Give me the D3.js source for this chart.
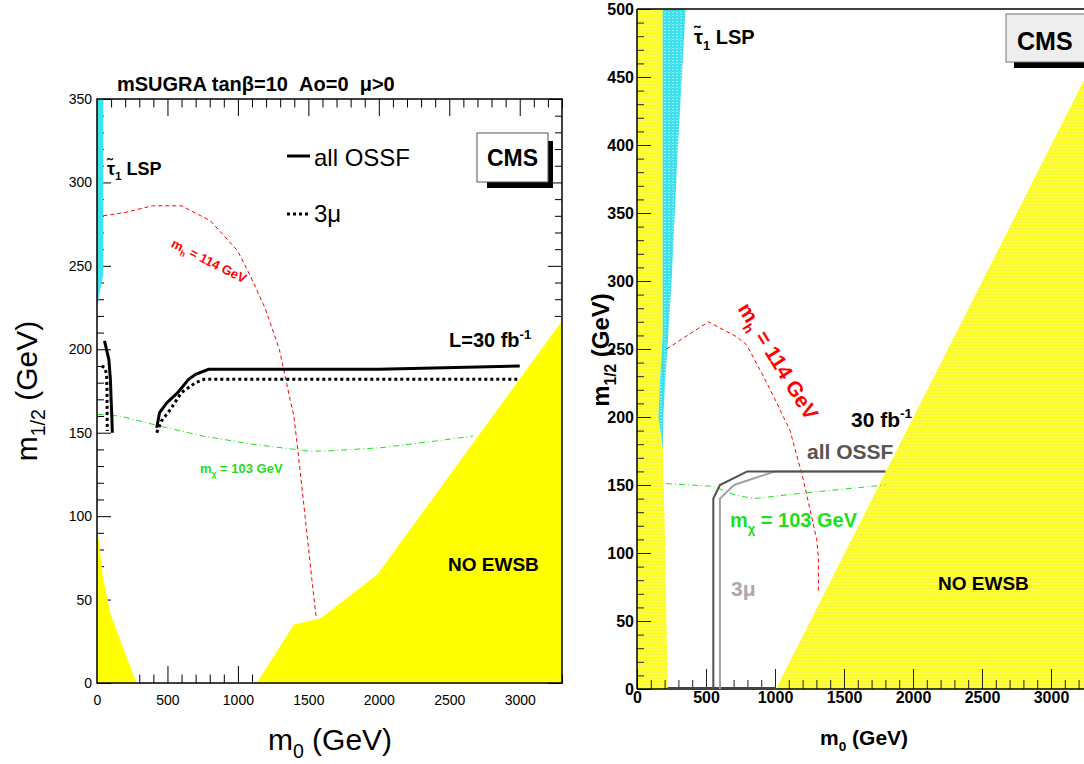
<!DOCTYPE html>
<html><head><meta charset="utf-8">
<script src="https://cdn.jsdelivr.net/npm/d3@7/dist/d3.min.js"></script>
<style>html,body{margin:0;padding:0;background:#fff;} svg{display:block;}</style>
</head><body>
<script>
// ---------------- DATA ----------------
const xMajorTicks = [0, 500, 1000, 1500, 2000, 2500, 3000];
const leftYMajorTicks = [0, 50, 100, 150, 200, 250, 300, 350];
const rightYMajorTicks = [0, 50, 100, 150, 200, 250, 300, 350, 400, 450, 500];

// Left panel (m0, m1/2)
const leftCyan = [[0,350],[45,350],[45,245],[0,226]];
const leftYellowLow = [[0,0],[0,94],[45,62],[97,41],[280,0]];
const leftNoEwsb = [[1134,0],[1397,35],[1590,39],[1989,65],[3300,217],[3300,0]];
const leftOssf = [[424,153],[444,162],[496,168],[573,174],[650,182],[700,185],[792,188],[2000,188],[3000,190]];
const leftOssfLow = [[53,205],[84,194],[95,182],[100,170],[105,160],[109,150]];
const left3mu = [[424,150],[457,157],[521,164],[599,174],[700,180],[760,182],[3000,182]];
const left3muLow = [[33,190],[55,189],[68,185],[71,175],[72,160],[73,151]];
const leftMh = [[45,280],[200,282],[393,286],[599,286],[805,277],[998,259],[1088,244],[1191,225],[1294,200],[1370,170],[1397,160],[1422,142],[1474,102],[1525,62],[1556,39]];
const leftMchi = [[6,161],[161,160],[444,154],[752,148],[1114,143],[1500,139],[1628,139],[2014,141],[2400,145],[2670,148]];

// Right panel
const rightYellowLeft = [[0,0],[222,0],[205,100],[188,177],[155,200],[167,227],[186,260],[186,500],[0,500]];
const rightCyan = [[186,500],[353,500],[297,400],[251,300],[205,227],[190,200],[188,177],[155,200],[167,227],[186,260]];
const rightNoEwsb = [[1007,0],[3300,460],[3300,0]];
const rightOssf = [[553,0],[553,140],[601,150],[799,160],[1800,160]];
const right3mu = [[601,0],[601,140],[703,150],[1000,160],[1800,160]];
const rightMh = [[215,250],[517,270],[722,259],[795,253],[915,230],[1000,213],[1109,190],[1205,154],[1302,110],[1314,97],[1314,70]];
const rightMchi = [[210,151],[553,149],[700,143],[843,140],[1200,144],[1500,147],[1800,150]];

// ---------------- SETUP ----------------
const FONT = "'Liberation Sans', Arial, Helvetica, sans-serif";
const W = 1084, H = 764;
const svg = d3.select("body").append("svg").attr("width", W).attr("height", H)
  .attr("font-family", FONT);

const defs = svg.append("defs");
const py = defs.append("pattern").attr("id","yel").attr("width",6).attr("height",3).attr("patternUnits","userSpaceOnUse");
py.append("rect").attr("width",6).attr("height",3).attr("fill","#ffff26");
py.append("rect").attr("width",6).attr("height",1).attr("fill","#f4f45a");
const pc = defs.append("pattern").attr("id","cya").attr("width",4).attr("height",3).attr("patternUnits","userSpaceOnUse");
pc.append("rect").attr("width",4).attr("height",3).attr("fill","#3fe0ee");
pc.append("rect").attr("width",2).attr("height",1).attr("fill","#8cf2fa");

function label(g, parts, o) {
  const t = g.append("text")
    .attr("font-size", o.size).attr("font-weight", o.weight || "normal")
    .attr("fill", o.fill || "#000").attr("text-anchor", o.anchor || "start")
    .style("white-space", "pre")
    .attr("transform", `translate(${o.x},${o.y}) rotate(${o.rot || 0})`);
  let shift = 0;
  parts.forEach(p => {
    const s = typeof p === "string" ? {t: p} : p;
    const target = s.sub ? 0.28 : s.sup ? -0.42 : 0;
    const dy = (target - shift) * o.size;
    shift = target;
    t.append("tspan").attr("dy", dy)
      .attr("font-size", (s.sub || s.sup) ? o.size * 0.65 : o.size).text(s.t);
  });
  return t;
}

function tickSet(g, axisFn, scale, values, size, tr, color) {
  const gg = g.append("g").attr("transform", tr)
    .call(axisFn(scale).tickValues(values).tickSize(size).tickFormat(""));
  gg.select(".domain").remove();
  gg.selectAll("line").attr("stroke", color || "#000").attr("stroke-width", 1);
  return gg;
}
function labelSet(g, axisFn, scale, values, pad, tr, fs, fw) {
  const gg = g.append("g").attr("transform", tr)
    .call(axisFn(scale).tickValues(values).tickSize(0).tickPadding(pad).tickFormat(d3.format("d")));
  gg.select(".domain").remove();
  gg.selectAll("text").attr("font-family", FONT).attr("font-size", fs).attr("font-weight", fw).attr("fill", "#000");
  return gg;
}

// ---------------- LEFT PANEL ----------------
const xL = d3.scaleLinear().domain([0, 3300]).range([97, 562]);
const yL = d3.scaleLinear().domain([0, 350]).range([683, 99]);
const lineL = d3.line().x(d => xL(d[0])).y(d => yL(d[1]));
const gL = svg.append("g");

const lxMinor = d3.range(0, 3301, 100).filter(v => v % 500 !== 0);
const lyMinor = d3.range(0, 351, 10).filter(v => v % 50 !== 0);
// ticks (drawn under the fills)
tickSet(gL, d3.axisBottom, xL, xMajorTicks, -17, `translate(0,683)`);
tickSet(gL, d3.axisBottom, xL, lxMinor, -8.5, `translate(0,683)`);
tickSet(gL, d3.axisTop, xL, xMajorTicks, -17, `translate(0,99)`);
tickSet(gL, d3.axisTop, xL, lxMinor, -8.5, `translate(0,99)`);
tickSet(gL, d3.axisLeft, yL, leftYMajorTicks, -14, `translate(97,0)`);
tickSet(gL, d3.axisLeft, yL, lyMinor, -7, `translate(97,0)`);
tickSet(gL, d3.axisRight, yL, leftYMajorTicks, -14, `translate(562,0)`);
tickSet(gL, d3.axisRight, yL, lyMinor, -7, `translate(562,0)`);
labelSet(gL, d3.axisBottom, xL, xMajorTicks, 12, `translate(0,683)`, 14, "normal");
labelSet(gL, d3.axisLeft, yL, leftYMajorTicks, 5, `translate(97,0)`, 14, "normal");

// fills
gL.append("path").attr("d", lineL(leftCyan) + "Z").attr("fill", "#3fe3ef");
gL.append("path").attr("d", lineL(leftYellowLow) + "Z").attr("fill", "#ffff00");
gL.append("path").attr("d", lineL(leftNoEwsb) + "Z").attr("fill", "#ffff00");
// frame
gL.append("rect").attr("x", 97).attr("y", 99).attr("width", 465).attr("height", 584)
  .attr("fill", "none").attr("stroke", "#000").attr("stroke-width", 1.5);

// curves
gL.append("path").attr("d", lineL(leftMh)).attr("fill", "none").attr("stroke", "#ff0000")
  .attr("stroke-width", 1).attr("stroke-dasharray", "4,3");
gL.append("path").attr("d", lineL(leftMchi)).attr("fill", "none").attr("stroke", "#22e022")
  .attr("stroke-width", 1).attr("stroke-dasharray", "6,3,1,3");
[leftOssf, leftOssfLow].forEach(c => gL.append("path").attr("d", lineL(c)).attr("fill", "none")
  .attr("stroke", "#000").attr("stroke-width", 3));
[left3mu, left3muLow].forEach(c => gL.append("path").attr("d", lineL(c)).attr("fill", "none")
  .attr("stroke", "#000").attr("stroke-width", 3).attr("stroke-dasharray", "3,3"));

// texts
label(gL, ["mSUGRA tan\u03b2=10  Ao=0  \u03bc>0"], {x: 117, y: 91, size: 20, weight: "bold"});
label(gL, ["m", {t: "1/2", sub: true}, " (GeV)"], {x: 37, y: 391, size: 30, rot: -90, anchor: "middle"});
label(gL, ["m", {t: "0", sub: true}, " (GeV)"], {x: 330, y: 750, size: 30, anchor: "middle"});
gL.append("line").attr("x1", 287).attr("x2", 310).attr("y1", 156).attr("y2", 156).attr("stroke", "#000").attr("stroke-width", 3);
label(gL, ["all OSSF"], {x: 314, y: 166, size: 24});
gL.append("line").attr("x1", 287).attr("x2", 310).attr("y1", 214).attr("y2", 214).attr("stroke", "#000").attr("stroke-width", 3).attr("stroke-dasharray", "3,3");
label(gL, ["3\u03bc"], {x: 314, y: 222, size: 24});
label(gL, ["\u03c4\u0303", {t: "1", sub: true}, " LSP"], {x: 107, y: 175, size: 18, weight: "bold"});
label(gL, ["L=30 fb", {t: "-1", sup: true}], {x: 449, y: 347, size: 20, weight: "bold"});
label(gL, ["NO EWSB"], {x: 448, y: 571, size: 19, weight: "bold"});
label(gL, ["m", {t: "h", sub: true}, " = 114 GeV"], {x: 207, y: 265, size: 13, weight: "bold", fill: "#ff0000", rot: 26.7, anchor: "middle"});
label(gL, ["m", {t: "\u03c7", sub: true}, " = 103 GeV"], {x: 200, y: 473, size: 13, weight: "bold", fill: "#22dd22"});
// CMS box
gL.append("rect").attr("x", 487).attr("y", 141).attr("width", 66).attr("height", 47).attr("fill", "#000");
gL.append("rect").attr("x", 477).attr("y", 133).attr("width", 71).attr("height", 49).attr("fill", "#fff").attr("stroke", "#555").attr("stroke-width", 1);
label(gL, ["CMS"], {x: 512.5, y: 166, size: 23, weight: "bold", anchor: "middle"});

// ---------------- RIGHT PANEL ----------------
const xR = d3.scaleLinear().domain([0, 3300]).range([637, 637 + 3300 * 0.138]);
const yR = d3.scaleLinear().domain([0, 500]).range([689, 9]);
const lineR = d3.line().x(d => xR(d[0])).y(d => yR(d[1]));
const gR = svg.append("g");

gR.append("path").attr("d", lineR(rightYellowLeft) + "Z").attr("fill", "url(#yel)");
gR.append("path").attr("d", lineR(rightNoEwsb) + "Z").attr("fill", "url(#yel)");
gR.append("path").attr("d", lineR(rightCyan) + "Z").attr("fill", "url(#cya)");

const rxMinor = d3.range(0, 3301, 100).filter(v => v % 500 !== 0);
const ryMinor = d3.range(0, 501, 10).filter(v => v % 50 !== 0);
tickSet(gR, d3.axisBottom, xR, xMajorTicks, -20, `translate(0,689)`, "#222");
tickSet(gR, d3.axisBottom, xR, rxMinor, -9, `translate(0,689)`, "#222");
tickSet(gR, d3.axisLeft, yR, rightYMajorTicks, -14, `translate(637,0)`, "#222");
tickSet(gR, d3.axisLeft, yR, ryMinor, -7, `translate(637,0)`, "#222");
labelSet(gR, d3.axisBottom, xR, xMajorTicks, 3, `translate(0,689)`, 16, "bold");
labelSet(gR, d3.axisLeft, yR, rightYMajorTicks, 3, `translate(637,0)`, 16, "bold");

// frame
gR.append("line").attr("x1", 637).attr("x2", 1100).attr("y1", 9).attr("y2", 9).attr("stroke", "#000").attr("stroke-width", 1.5);
gR.append("line").attr("x1", 637).attr("x2", 637).attr("y1", 9).attr("y2", 689).attr("stroke", "#000").attr("stroke-width", 1.5);
gR.append("line").attr("x1", 637).attr("x2", 1100).attr("y1", 689).attr("y2", 689).attr("stroke", "#000").attr("stroke-width", 1.5);
gR.append("line").attr("x1", xR(222)).attr("x2", xR(1007)).attr("y1", 688).attr("y2", 688).attr("stroke", "#444").attr("stroke-width", 2);

// curves
gR.append("path").attr("d", lineR(rightMh)).attr("fill", "none").attr("stroke", "#ff0000")
  .attr("stroke-width", 1).attr("stroke-dasharray", "4,3");
gR.append("path").attr("d", lineR(rightMchi)).attr("fill", "none").attr("stroke", "#22e022")
  .attr("stroke-width", 1).attr("stroke-dasharray", "6,3,1,3");
gR.append("path").attr("d", lineR(right3mu)).attr("fill", "none").attr("stroke", "#a0a0a0").attr("stroke-width", 2);
gR.append("path").attr("d", lineR(rightOssf)).attr("fill", "none").attr("stroke", "#505050").attr("stroke-width", 2);

// texts
label(gR, ["m", {t: "1/2", sub: true}, " (GeV)"], {x: 609, y: 350, size: 24, weight: "bold", rot: -90, anchor: "middle"});
label(gR, ["m", {t: "0", sub: true}, " (GeV)"], {x: 864, y: 745, size: 21, weight: "bold", anchor: "middle"});
label(gR, ["\u03c4\u0303", {t: "1", sub: true}, " LSP"], {x: 694, y: 44, size: 20, weight: "bold"});
label(gR, ["30 fb", {t: "-1", sup: true}], {x: 851, y: 427, size: 21, weight: "bold"});
label(gR, ["all OSSF"], {x: 807, y: 459, size: 21, weight: "bold", fill: "#555"});
label(gR, ["m", {t: "\u03c7", sub: true}, " = 103 GeV"], {x: 730, y: 527, size: 20, weight: "bold", fill: "#22dd22"});
label(gR, ["3\u03bc"], {x: 731, y: 596, size: 21, weight: "bold", fill: "#aaa"});
label(gR, ["NO EWSB"], {x: 938, y: 590, size: 19, weight: "bold"});
label(gR, ["m", {t: "h", sub: true}, " = 114 GeV"], {x: 772, y: 365, size: 21, weight: "bold", fill: "#ff0000", rot: 58.3, anchor: "middle"});
// CMS box
gR.append("rect").attr("x", 1014).attr("y", 20).attr("width", 100).attr("height", 48).attr("fill", "#000");
gR.append("rect").attr("x", 1006).attr("y", 14).attr("width", 100).attr("height", 48).attr("fill", "#eeeeee").attr("stroke", "#777").attr("stroke-width", 1);
label(gR, ["CMS"], {x: 1017, y: 50, size: 25, weight: "bold"});
</script>
</body></html>
